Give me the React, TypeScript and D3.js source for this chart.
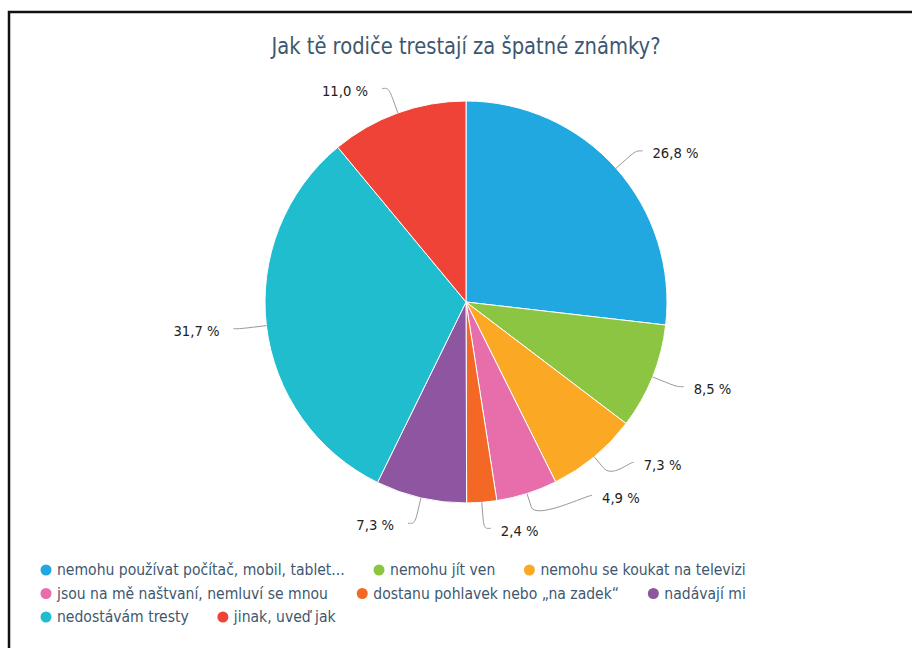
import React from 'react';
import * as d3 from 'd3';

const title = 'Jak tě rodiče trestají za špatné známky?';
const categories = [
  'nemohu používat počítač, mobil, tablet...',
  'nemohu jít ven',
  'nemohu se koukat na televizi',
  'jsou na mě naštvaní, nemluví se mnou',
  'dostanu pohlavek nebo „na zadek“',
  'nadávají mi',
  'nedostávám tresty',
  'jinak, uveď jak',
];
const values = [26.8, 8.5, 7.3, 4.9, 2.4, 7.3, 31.7, 11.0];
const colors = ['#21a8e0', '#8bc542', '#fba925', '#e76dab', '#f26824', '#8e55a0', '#1fbdce', '#ef4338'];

const W = 912;
const H = 648;
const CX = 466;
const CY = 302;
const R = 201;
const LABEL_R = 227;
const BREAK = 14;
const GAP = 33;
const FONT = '"DejaVu Sans", sans-serif';
const TEXT_COLOR = '#3e576f';

const LEG_SIZE = 16;
const LEG_SX = 0.875;

const fmt = (v: number) => v.toFixed(1).replace('.', ',') + ' %';

let ctx: CanvasRenderingContext2D | null = null;
function measure(text: string, size: number, sx: number): number {
  if (!ctx) ctx = document.createElement('canvas').getContext('2d');
  if (!ctx) return text.length * size * 0.55 * sx;
  ctx.font = `${size}px "DejaVu Sans", sans-serif`;
  return ctx.measureText(text).width * sx;
}

function Txt(props: {
  x: number;
  y: number;
  size: number;
  fill: string;
  anchor?: 'start' | 'middle' | 'end';
  sx: number;
  children: React.ReactNode;
}) {
  const { x, y, size, fill, anchor = 'start', sx, children } = props;
  return (
    <text
      transform={`translate(${x},${y}) scale(${sx},1)`}
      x={0}
      y={0}
      textAnchor={anchor}
      dominantBaseline="central"
      fontSize={size}
      fill={fill}
      fontFamily={FONT}
    >
      {children}
    </text>
  );
}

export default function App() {
  const pie = d3.pie<number>().sort(null).value((d) => d).startAngle(0).endAngle(2 * Math.PI);
  const arcs = pie(values);
  const arcGen = d3.arc<d3.PieArcDatum<number>>().innerRadius(0).outerRadius(R);

  // label layout
  type L = { i: number; a: number; side: number; y: number };
  const labels: L[] = arcs.map((d, i) => {
    const a = (d.startAngle + d.endAngle) / 2;
    const side = Math.sin(a) >= 0 ? 1 : -1;
    const y = CY - LABEL_R * Math.cos(a);
    return { i, a, side, y };
  });
  [1, -1].forEach((s) => {
    const group = labels.filter((l) => l.side === s).sort((p, q) => p.y - q.y);
    for (let k = group.length - 2; k >= 0; k--) {
      group[k].y = Math.min(group[k].y, group[k + 1].y - GAP);
    }
  });

  const labelEls = labels.map((l) => {
    const dx = Math.sin(l.a);
    const dy = -Math.cos(l.a);
    const tx = CX + R * dx;
    const ty = CY + R * dy;
    const bx = CX + (R + BREAK) * dx;
    const by = CY + (R + BREAK) * dy;
    const lx = CX + l.side * Math.sqrt(Math.max(0, LABEL_R * LABEL_R - (l.y - CY) * (l.y - CY)));
    const ex = lx + l.side * 7;
    const ey = l.y;
    const path = d3.path();
    path.moveTo(ex, ey);
    path.bezierCurveTo(ex - l.side * 5, ey, 2 * bx - tx, 2 * by - ty, bx, by);
    path.lineTo(tx, ty);
    return (
      <g key={'lab' + l.i}>
        <path d={path.toString()} fill="none" stroke="#999" strokeWidth={1} />
        <Txt
          x={lx + (l.side > 0 ? 17 : -21)}
          y={ey + 2}
          anchor={l.side > 0 ? 'start' : 'end'}
          size={14.5}
          sx={0.91}
          fill="#222"
        >
          {fmt(values[l.i])}
        </Txt>
      </g>
    );
  });

  // legend flow layout
  const legStartX = 46;
  const legMaxX = 850;
  const legRowY = 570;
  const legRowH = 23.5;
  const legItems: { i: number; x: number; y: number }[] = [];
  let cx = legStartX;
  let row = 0;
  categories.forEach((c, i) => {
    const w = 11 + measure(c, LEG_SIZE, LEG_SX);
    if (cx !== legStartX && cx + w > legMaxX) {
      row += 1;
      cx = legStartX;
    }
    legItems.push({ i, x: cx, y: legRowY + row * legRowH });
    cx += w + 34;
  });

  return (
    <div style={{ position: 'absolute', left: 0, top: 0 }}>
      <svg width={W} height={H} style={{ display: 'block', background: '#fff' }}>
        <rect x={9} y={12} width={1000} height={1000} fill="#fff" stroke="#111" strokeWidth={2.5} />
        <Txt x={CX} y={46} anchor="middle" size={23} sx={0.85} fill={TEXT_COLOR}>
          {title}
        </Txt>
        <g transform={`translate(${CX},${CY})`}>
          {arcs.map((d, i) => (
            <path key={i} d={arcGen(d) || ''} fill={colors[i]} stroke="#fff" strokeWidth={1} />
          ))}
        </g>
        {labelEls}
        {legItems.map((it) => (
          <g key={'leg' + it.i}>
            <circle cx={it.x} cy={it.y} r={5.5} fill={colors[it.i]} />
            <Txt x={it.x + 11} y={it.y} size={LEG_SIZE} sx={LEG_SX} fill={TEXT_COLOR}>
              {categories[it.i]}
            </Txt>
          </g>
        ))}
      </svg>
    </div>
  );
}
